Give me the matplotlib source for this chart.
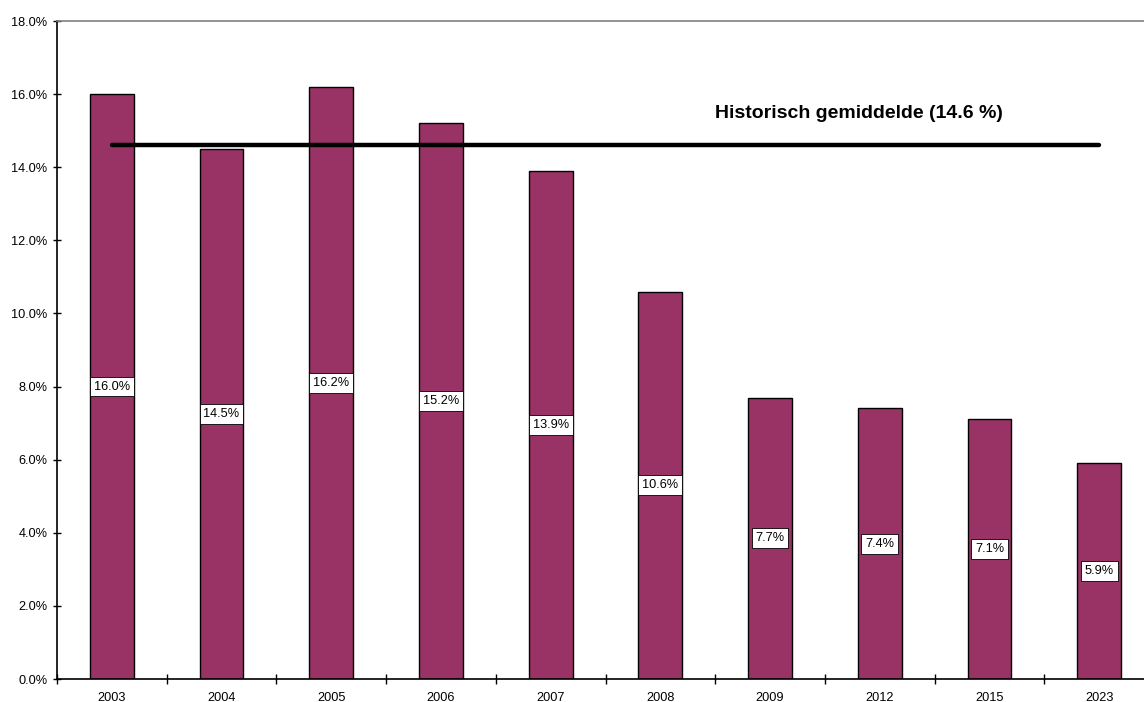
import matplotlib
matplotlib.use("Agg")
import matplotlib.pyplot as plt
import numpy as np

years = ["2003", "2004", "2005", "2006", "2007", "2008", "2009", "2012", "2015", "2023"]
values = [16.0, 14.5, 16.2, 15.2, 13.9, 10.6, 7.7, 7.4, 7.1, 5.9]
average = 14.6
avg_label = "Historisch gemiddelde (14.6 %)"
yticks = [0, 2, 4, 6, 8, 10, 12, 14, 16, 18]

plt.rcParams['font.family'] = ['Liberation Sans', 'DejaVu Sans']

W, H = 1144, 702
fig = plt.figure(figsize=(W / 100, H / 100), dpi=100)
left, bottom, top = 57, 679, 21
catw = 109.7
ax = fig.add_axes([left / W, (H - bottom) / H, catw * 10 / W, (bottom - top) / H])

x = np.arange(len(years))
ax.bar(x, values, width=0.4, color="#993366", edgecolor="black", linewidth=1.0, zorder=2)
for xi, v in zip(x, values):
    ax.text(xi, v / 2, f"{v:.1f}%", ha="center", va="center", fontsize=9.2,
            bbox=dict(boxstyle="square,pad=0.3", facecolor="white", edgecolor="black", linewidth=0.6),
            zorder=4)

ax.plot([x[0], x[-1]], [average, average], color="black", linewidth=3.2, zorder=3, solid_capstyle="round")
ax.text(5.5, 15.48, avg_label, fontsize=14, fontweight="bold", ha="left", va="center")

ax.set_xlim(-0.5, len(years) - 0.5)
ax.set_ylim(0, 18)
ax.set_yticks(yticks)
ax.set_yticklabels([f"{t:.1f}%" for t in yticks], fontsize=9.2)
ax.set_xticks(x)
ax.set_xticklabels(years, fontsize=9.2)
ax.set_xticks(np.arange(len(years) + 1) - 0.5, minor=True)
ax.tick_params(axis="x", which="major", length=0, pad=9.5)
ax.tick_params(axis="x", which="minor", direction="inout", length=7, width=1)
ax.tick_params(axis="y", direction="inout", length=6, width=1, pad=4)

ax.spines["right"].set_visible(False)
ax.spines["top"].set_color("#808080")
ax.spines["top"].set_linewidth(1.2)
ax.spines["left"].set_linewidth(1.2)
ax.spines["bottom"].set_linewidth(1.2)

fig.savefig("out.png", dpi=100)
